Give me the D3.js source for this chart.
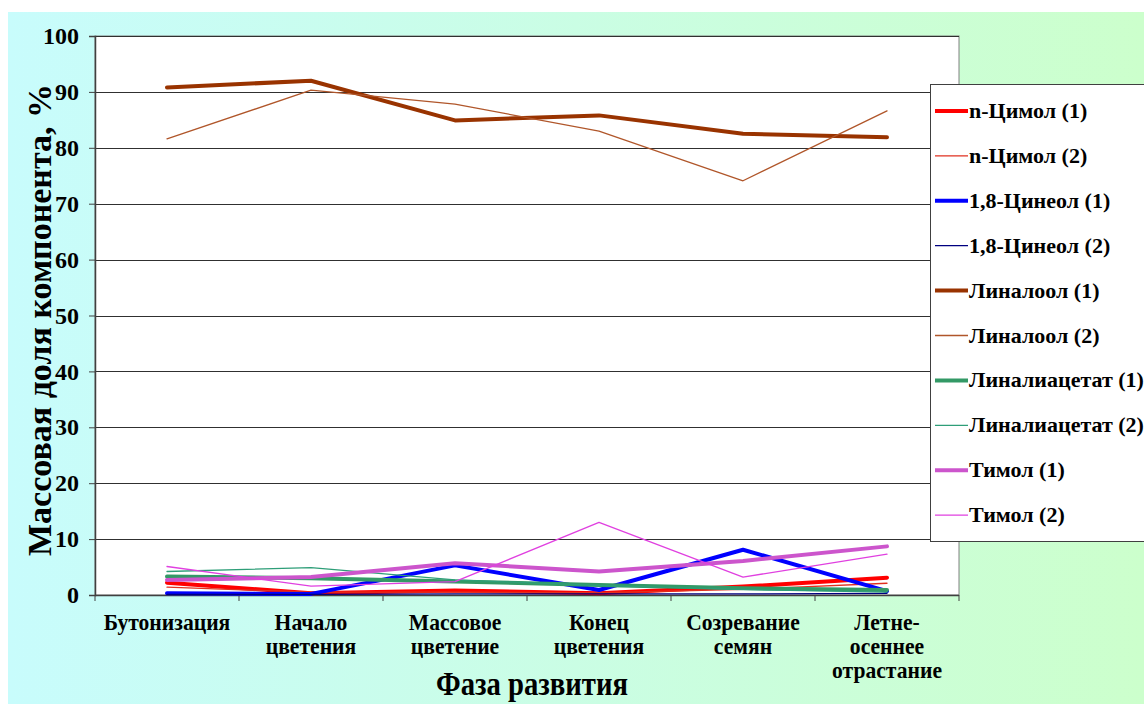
<!DOCTYPE html>
<html>
<head>
<meta charset="utf-8">
<script src="https://cdn.jsdelivr.net/npm/d3@7"></script>
<style>
  html, body { margin: 0; padding: 0; background: #fff; }
  svg { display: block; }
</style>
</head>
<body>
<svg id="chart" width="1144" height="704"></svg>
<script>
// Development phases (x categories); "\n" breaks a label into lines
const phases = [
  "Бутонизация",
  "Начало\nцветения",
  "Массовое\nцветение",
  "Конец\nцветения",
  "Созревание\nсемян",
  "Летне-\nосеннее\nотрастание"
];

// Mass fraction of each component, %
const cymene1     = [2.2, 0.3, 0.8, 0.3, 1.5, 3.1];
const cymene2     = [1.4, 0.5, 0.5, 0.4, 1.0, 2.1];
const cineole1    = [0.3, 0.2, 5.3, 0.9, 8.1, 0.7];
const cineole2    = [0.1, 0.1, 0.2, 0.2, 0.2, 0.3];
const linalool1   = [90.8, 92.0, 84.9, 85.8, 82.5, 81.9];
const linalool2   = [81.6, 90.3, 87.8, 83.0, 74.1, 86.6];
const linalylAc1  = [3.3, 3.0, 2.4, 1.8, 1.2, 0.9];
const linalylAc2  = [4.2, 4.9, 2.7, 1.7, 1.0, 0.5];
const thymol1     = [2.7, 3.2, 5.7, 4.2, 6.1, 8.7];
const thymol2     = [5.1, 1.6, 2.4, 13.0, 3.2, 7.3];

const seriesNames = [
  "n-Цимол (1)", "n-Цимол (2)",
  "1,8-Цинеол (1)", "1,8-Цинеол (2)",
  "Линалоол (1)", "Линалоол (2)",
  "Линалиацетат (1)", "Линалиацетат (2)",
  "Тимол (1)", "Тимол (2)"
];
const seriesValues = [cymene1, cymene2, cineole1, cineole2, linalool1, linalool2,
                      linalylAc1, linalylAc2, thymol1, thymol2];
const seriesColors = ["#ff0000", "#e03020", "#0000ff", "#000080", "#993300", "#b0562a",
                      "#339966", "#2e9e78", "#cc55cc", "#e040e0"];
const seriesWidths = [4, 1.3, 4, 1.3, 4, 1.3, 4, 1.3, 4, 1.3];

const yTicks = [0, 10, 20, 30, 40, 50, 60, 70, 80, 90, 100];

const SERIF = "Liberation Serif, Times New Roman, serif";

const svg = d3.select("#chart");
const W = 1144, H = 704;

// Background panel with a cyan-to-green gradient
const defs = svg.append("defs");
const grad = defs.append("linearGradient").attr("id", "bg").attr("x1", "0").attr("x2", "1").attr("y1", "0").attr("y2", "0");
grad.append("stop").attr("offset", "0%").attr("stop-color", "#c8fcfc");
grad.append("stop").attr("offset", "100%").attr("stop-color", "#ccffcc");
svg.append("rect").attr("x", 0).attr("y", 0).attr("width", W).attr("height", H).attr("fill", "#fff");
svg.append("rect").attr("x", 8).attr("y", 12).attr("width", W - 8).attr("height", H - 12).attr("fill", "url(#bg)");

const plot = { left: 95, top: 36, right: 959, bottom: 595 };

const x = d3.scaleBand().domain(phases).range([plot.left, plot.right]).padding(0);
const y = d3.scaleLinear().domain([0, 100]).range([plot.bottom, plot.top]);

// Plot area
svg.append("rect")
  .attr("x", plot.left).attr("y", plot.top)
  .attr("width", plot.right - plot.left).attr("height", plot.bottom - plot.top)
  .attr("fill", "#fff").attr("stroke", "#808080").attr("stroke-width", 1);

// Horizontal gridlines
svg.append("g").selectAll("line").data(yTicks.filter(d => d > 0)).join("line")
  .attr("x1", plot.left).attr("x2", plot.right)
  .attr("y1", d => Math.round(y(d)) + 0.5).attr("y2", d => Math.round(y(d)) + 0.5)
  .attr("stroke", "#303030").attr("stroke-width", 1);

// Y axis
const yAxis = svg.append("g").attr("transform", `translate(${plot.left},0)`)
  .call(d3.axisLeft(y).tickValues(yTicks).tickSize(6).tickPadding(10).tickFormat(d3.format("d")));
yAxis.attr("font-family", SERIF).attr("font-size", 24).attr("font-weight", "bold");
yAxis.select(".domain").attr("stroke", "#404040").attr("stroke-width", 1.5);
yAxis.selectAll(".tick line").attr("stroke", "#404040");
yAxis.selectAll("text").attr("fill", "#000");

// X axis: ticks at category boundaries
const xAxisG = svg.append("g");
xAxisG.append("line")
  .attr("x1", plot.left).attr("x2", plot.right)
  .attr("y1", plot.bottom + 0.5).attr("y2", plot.bottom + 0.5)
  .attr("stroke", "#404040").attr("stroke-width", 1.5);
const bounds = phases.map(p => x(p)).concat([x(phases[phases.length - 1]) + x.bandwidth()]);
xAxisG.selectAll("line.tk").data(bounds).join("line").attr("class", "tk")
  .attr("x1", d => d).attr("x2", d => d)
  .attr("y1", plot.bottom).attr("y2", plot.bottom + 6)
  .attr("stroke", "#404040");

// Category labels (condensed serif)
const labels = svg.append("g")
  .attr("font-family", SERIF).attr("font-weight", "bold").attr("font-size", 24)
  .selectAll("text").data(phases).join("text")
  .attr("text-anchor", "middle")
  .attr("fill", "#000")
  .attr("transform", d => `translate(${x(d) + x.bandwidth() / 2},0) scale(0.9,1)`);
labels.each(function(d) {
  const t = d3.select(this);
  d.split("\n").forEach((line, i) => {
    t.append("tspan").attr("x", 0).attr("y", 630 + i * 24).text(line);
  });
});

// Axis titles
svg.append("text")
  .attr("text-anchor", "middle")
  .attr("font-family", SERIF).attr("font-weight", "bold").attr("font-size", 33)
  .attr("fill", "#000")
  .attr("transform", `translate(532,695) scale(0.87,1)`)
  .text("Фаза развития");

svg.append("text")
  .attr("text-anchor", "middle")
  .attr("font-family", SERIF).attr("font-weight", "bold").attr("font-size", 34)
  .attr("fill", "#000")
  .attr("transform", `translate(51,320) rotate(-90)`)
  .text("Массовая доля компонента, %");

// Series lines
const line = d3.line()
  .x((d, i) => x(phases[i]) + x.bandwidth() / 2)
  .y(d => y(d));

svg.append("g").selectAll("path").data(seriesValues).join("path")
  .attr("d", d => line(d))
  .attr("fill", "none")
  .attr("stroke", (d, i) => seriesColors[i])
  .attr("stroke-width", (d, i) => seriesWidths[i])
  .attr("stroke-linejoin", "round")
  .attr("stroke-linecap", "round");

// Legend
const legend = svg.append("g");
legend.append("rect")
  .attr("x", 930.5).attr("y", 84.5).attr("width", 230).attr("height", 457)
  .attr("fill", "#fff").attr("stroke", "#404040").attr("stroke-width", 1);
const items = legend.selectAll("g.item").data(seriesNames).join("g").attr("class", "item")
  .attr("transform", (d, i) => `translate(0,${111 + i * 44.9})`);
items.append("line")
  .attr("x1", 935).attr("x2", 968).attr("y1", 0).attr("y2", 0)
  .attr("stroke", (d, i) => seriesColors[i])
  .attr("stroke-width", (d, i) => seriesWidths[i]);
items.append("text")
  .attr("x", 969).attr("y", 7)
  .attr("font-family", SERIF).attr("font-weight", "bold").attr("font-size", 22)
  .attr("fill", "#000")
  .text(d => d);
</script>
</body>
</html>
